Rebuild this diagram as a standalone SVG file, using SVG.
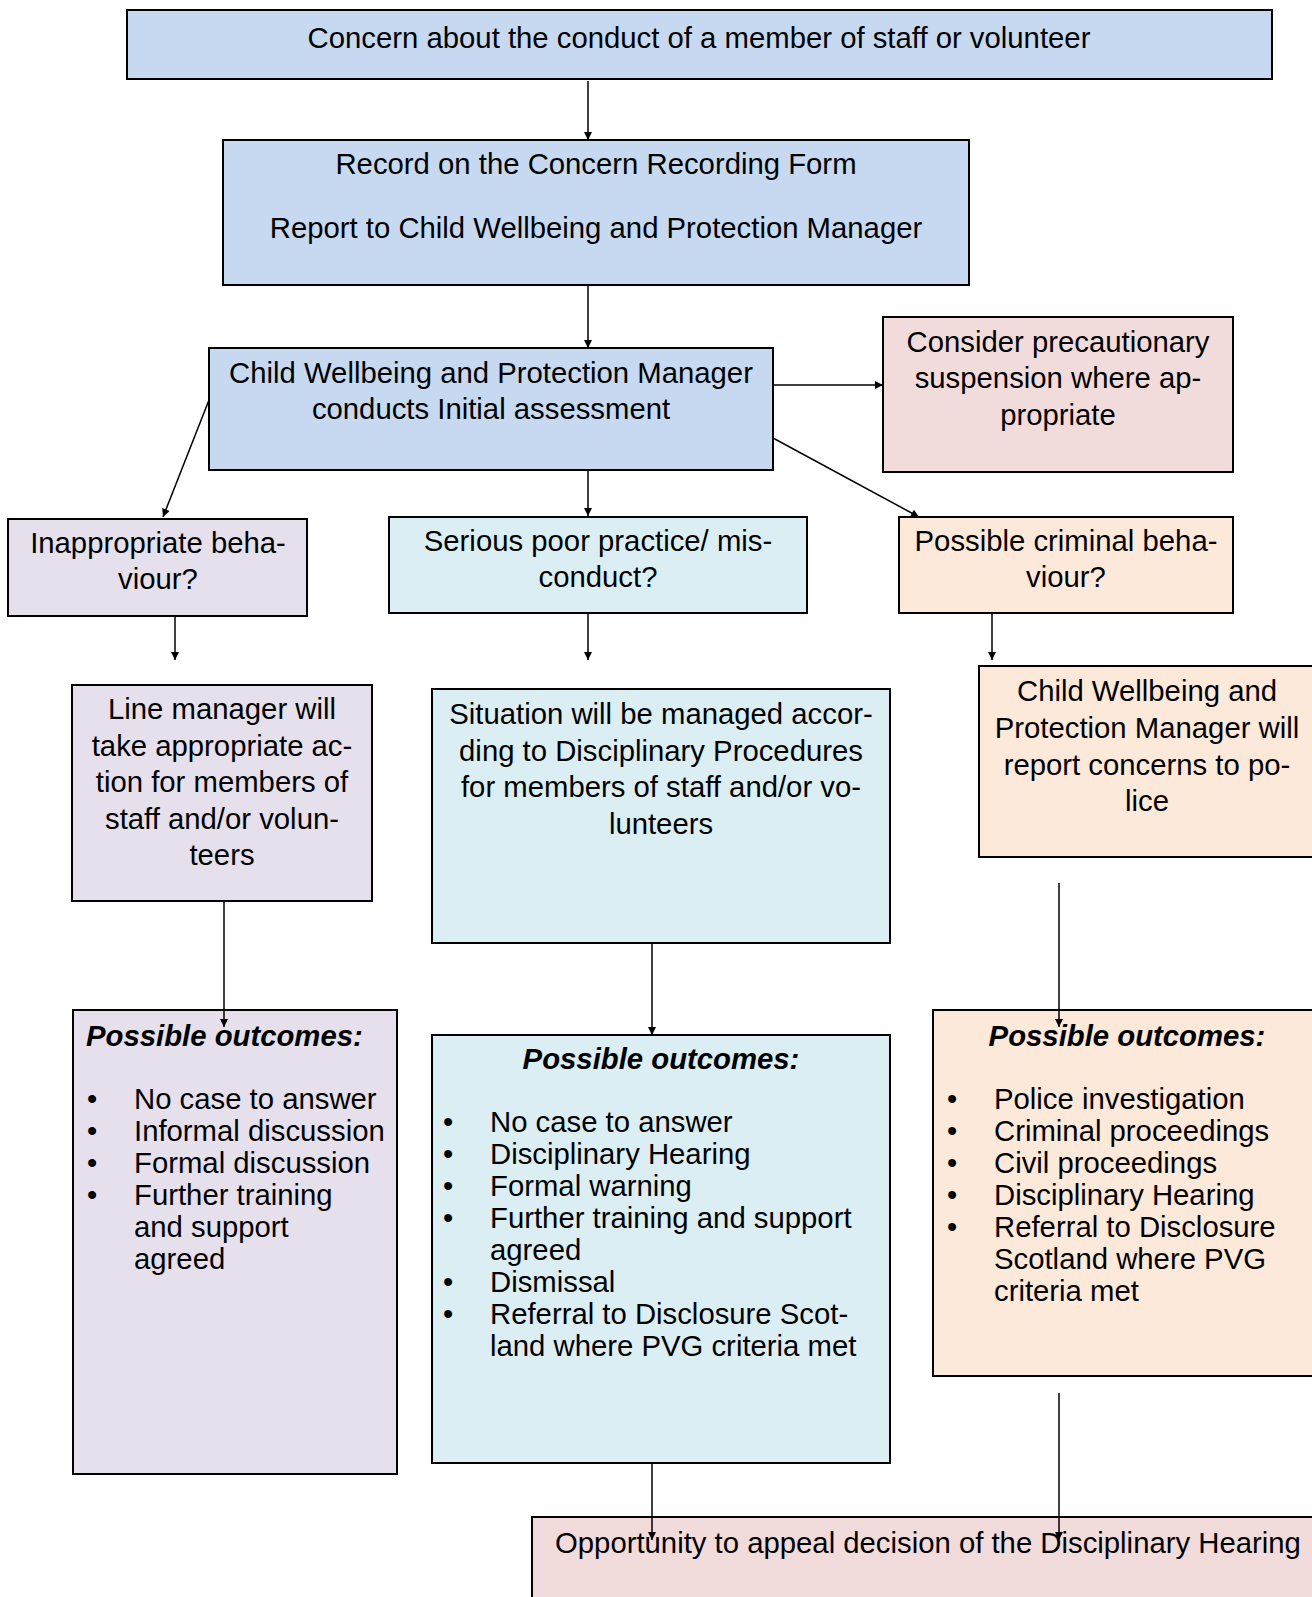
<svg xmlns="http://www.w3.org/2000/svg" width="1312" height="1597" viewBox="0 0 1312 1597">
<style>
.box{stroke:#000;stroke-width:2}
.blue{fill:#C6D9F1}.pink{fill:#F2DCDB}.lav{fill:#E5E0EC}.aqua{fill:#DBEEF4}.peach{fill:#FDE9D9}
text{font-family:"Liberation Sans",Arial,sans-serif;font-size:29.3px;fill:#000}
.c{text-anchor:middle}
.h{font-weight:bold;font-style:italic}
.con{stroke:#000;stroke-width:1.5;fill:none}
.arr{marker-end:url(#ah)}
</style>
<defs>
<marker id="ah" viewBox="0 0 10 10" refX="10" refY="5" markerWidth="9" markerHeight="8" markerUnits="userSpaceOnUse" orient="auto">
<path d="M0,0 L10,5 L0,10 z" fill="#000"/>
</marker>
</defs>
<g id="connectors">
<line class="con arr" x1="588" y1="81" x2="588" y2="140"/>
<line class="con arr" x1="588" y1="285" x2="588" y2="348"/>
<line class="con arr" x1="773" y1="385" x2="883" y2="385"/>
<line class="con arr" x1="209" y1="400" x2="163" y2="517"/>
<line class="con arr" x1="588" y1="470" x2="588" y2="516"/>
<line class="con arr" x1="773" y1="438" x2="919" y2="517"/>
<line class="con arr" x1="175" y1="616" x2="175" y2="660"/>
<line class="con arr" x1="588" y1="613" x2="588" y2="660"/>
<line class="con arr" x1="992" y1="613" x2="992" y2="660"/>
</g>
<g id="n-concern">
<rect class="box blue" x="127" y="10" width="1145" height="69"/>
<text class="c" x="699" y="48">Concern about the conduct of a member of staff or volunteer</text>
</g>
<g id="n-record">
<rect class="box blue" x="223" y="140" width="746" height="145"/>
<text class="c" x="596" y="174">Record on the Concern Recording Form</text>
<text class="c" x="596" y="238">Report to Child Wellbeing and Protection Manager</text>
</g>
<g id="n-assess">
<rect class="box blue" x="209" y="348" width="564" height="122"/>
<text class="c" x="491" y="383">Child Wellbeing and Protection Manager</text>
<text class="c" x="491" y="419">conducts Initial assessment</text>
</g>
<g id="n-suspension">
<rect class="box pink" x="883" y="317" width="350" height="155"/>
<text class="c" x="1058" y="352">Consider precautionary</text>
<text class="c" x="1058" y="388">suspension where ap-</text>
<text class="c" x="1058" y="425">propriate</text>
</g>
<g id="n-inappropriate">
<rect class="box lav" x="8" y="519" width="299" height="97"/>
<text class="c" x="158" y="553">Inappropriate beha-</text>
<text class="c" x="158" y="589">viour?</text>
</g>
<g id="n-serious">
<rect class="box aqua" x="389" y="517" width="418" height="96"/>
<text class="c" x="598" y="551">Serious poor practice/ mis-</text>
<text class="c" x="598" y="587">conduct?</text>
</g>
<g id="n-criminal">
<rect class="box peach" x="899" y="517" width="334" height="96"/>
<text class="c" x="1066" y="551">Possible criminal beha-</text>
<text class="c" x="1066" y="587">viour?</text>
</g>
<g id="n-linemanager">
<rect class="box lav" x="72" y="685" width="300" height="216"/>
<text class="c" x="222" y="719">Line manager will</text>
<text class="c" x="222" y="756">take appropriate ac-</text>
<text class="c" x="222" y="792">tion for members of</text>
<text class="c" x="222" y="829">staff and/or volun-</text>
<text class="c" x="222" y="865">teers</text>
</g>
<g id="n-situation">
<rect class="box aqua" x="432" y="689" width="458" height="254"/>
<text class="c" x="661" y="724">Situation will be managed accor-</text>
<text class="c" x="661" y="761">ding to Disciplinary Procedures</text>
<text class="c" x="661" y="797">for members of staff and/or vo-</text>
<text class="c" x="661" y="834">lunteers</text>
</g>
<g id="n-police">
<rect class="box peach" x="979" y="666" width="345" height="191"/>
<text class="c" x="1147" y="701">Child Wellbeing and</text>
<text class="c" x="1147" y="738">Protection Manager will</text>
<text class="c" x="1147" y="775">report concerns to po-</text>
<text class="c" x="1147" y="811">lice</text>
</g>
<g id="n-outcomes-left">
<rect class="box lav" x="73" y="1010" width="324" height="464"/>
<text class="h" x="86" y="1046">Possible outcomes:</text>
<text x="87" y="1109">•</text><text x="134" y="1109">No case to answer</text>
<text x="87" y="1141">•</text><text x="134" y="1141">Informal discussion</text>
<text x="87" y="1173">•</text><text x="134" y="1173">Formal discussion</text>
<text x="87" y="1205">•</text><text x="134" y="1205">Further training</text>
<text x="134" y="1237">and support</text>
<text x="134" y="1269">agreed</text>
</g>
<g id="n-outcomes-mid">
<rect class="box aqua" x="432" y="1035" width="458" height="428"/>
<text class="h c" x="661" y="1069">Possible outcomes:</text>
<text x="443" y="1132">•</text><text x="490" y="1132">No case to answer</text>
<text x="443" y="1164">•</text><text x="490" y="1164">Disciplinary Hearing</text>
<text x="443" y="1196">•</text><text x="490" y="1196">Formal warning</text>
<text x="443" y="1228">•</text><text x="490" y="1228">Further training and support</text>
<text x="490" y="1260">agreed</text>
<text x="443" y="1292">•</text><text x="490" y="1292">Dismissal</text>
<text x="443" y="1324">•</text><text x="490" y="1324">Referral to Disclosure Scot-</text>
<text x="490" y="1356">land where PVG criteria met</text>
</g>
<g id="n-outcomes-right">
<rect class="box peach" x="933" y="1010" width="390" height="366"/>
<text class="h c" x="1127" y="1046">Possible outcomes:</text>
<text x="947" y="1109">•</text><text x="994" y="1109">Police investigation</text>
<text x="947" y="1141">•</text><text x="994" y="1141">Criminal proceedings</text>
<text x="947" y="1173">•</text><text x="994" y="1173">Civil proceedings</text>
<text x="947" y="1205">•</text><text x="994" y="1205">Disciplinary Hearing</text>
<text x="947" y="1237">•</text><text x="994" y="1237">Referral to Disclosure</text>
<text x="994" y="1269">Scotland where PVG</text>
<text x="994" y="1301">criteria met</text>
</g>
<g id="n-appeal">
<rect class="box pink" x="532" y="1517" width="800" height="100"/>
<text x="555" y="1553">Opportunity to appeal decision of the Disciplinary Hearing</text>
</g>
<g id="connectors-over">
<line class="con arr" x1="224" y1="901" x2="224" y2="1027"/>
<line class="con arr" x1="652" y1="943" x2="652" y2="1035"/>
<line class="con arr" x1="1059" y1="883" x2="1059" y2="1027"/>
<line class="con arr" x1="652" y1="1463" x2="652" y2="1540"/>
<line class="con arr" x1="1059" y1="1393" x2="1059" y2="1540"/>
</g>
</svg>
